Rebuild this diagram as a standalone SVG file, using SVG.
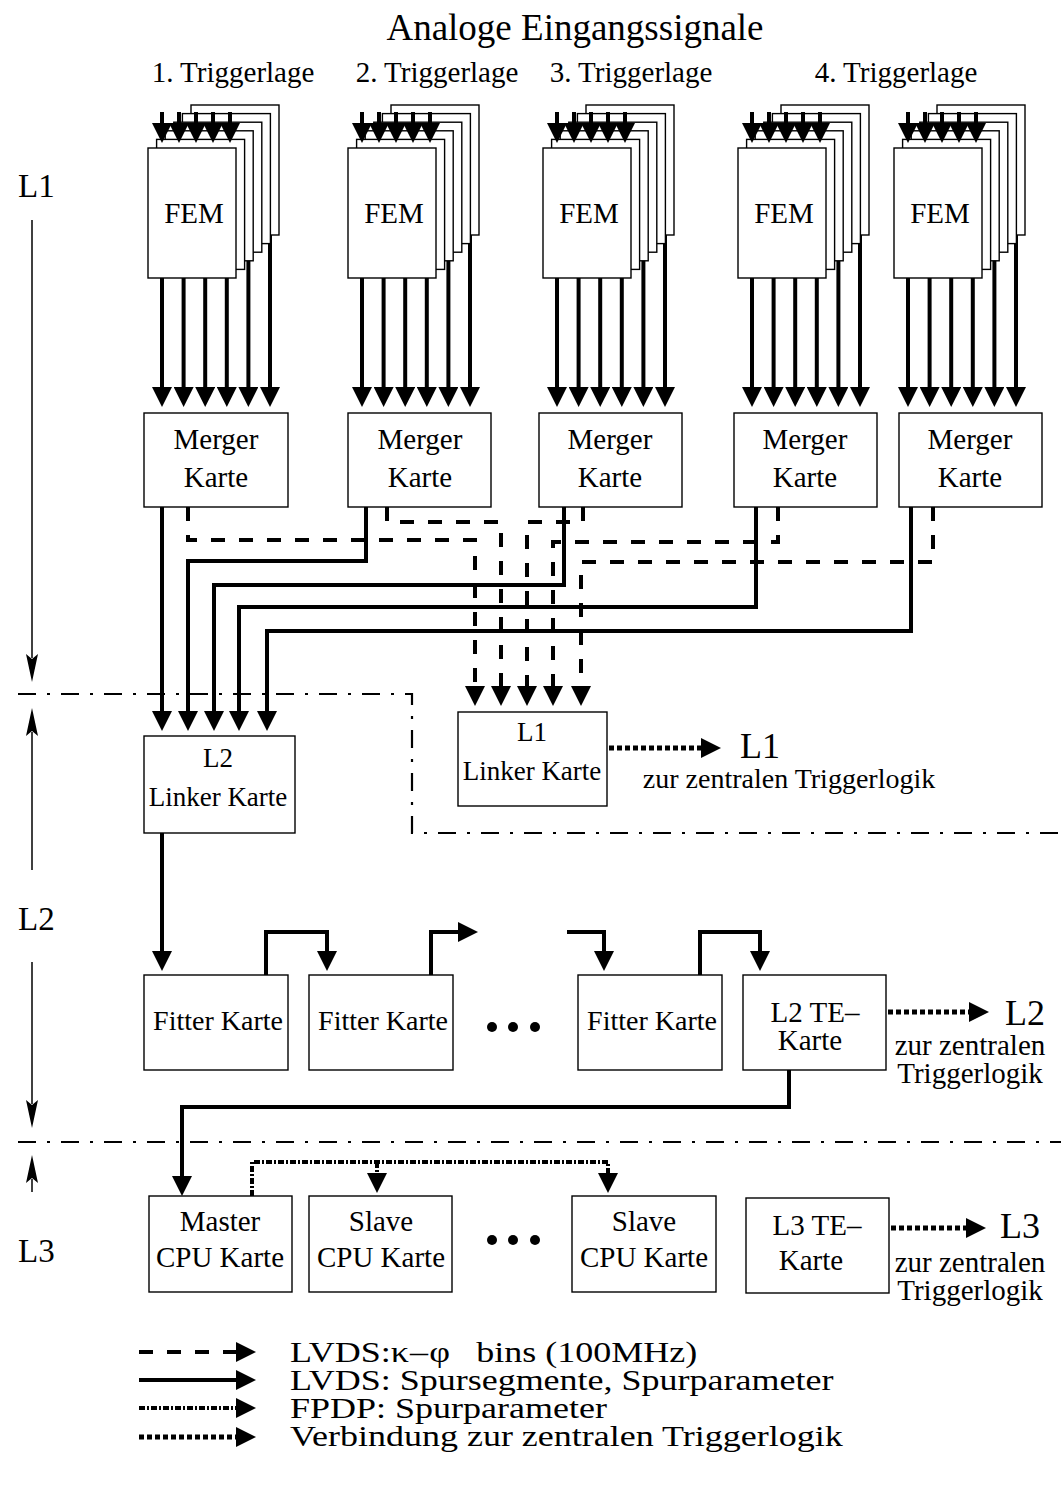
<svg xmlns="http://www.w3.org/2000/svg" width="1061" height="1508" viewBox="0 0 1061 1508">
<style>
text{font-family:"Liberation Serif","Times New Roman",serif;fill:#000}
.t{font-size:29px;text-anchor:middle}
.t2{font-size:27px;text-anchor:middle}
.box{fill:#fff;stroke:#000;stroke-width:1.4}
.sol{fill:none;stroke:#000;stroke-width:4}
.dsh{fill:none;stroke:#000;stroke-width:4;stroke-dasharray:14 14}
.fp{fill:none;stroke:#000;stroke-width:4;stroke-dasharray:6 2 2 2}
.dot{fill:none;stroke:#000;stroke-width:5;stroke-dasharray:5 3}
.sep{fill:none;stroke:#000;stroke-width:2.2;stroke-dasharray:18 11 3 11}
.ax{fill:none;stroke:#000;stroke-width:1.5}
.lg{font-size:30px}
</style>
<defs>
<marker id="a" markerUnits="userSpaceOnUse" markerWidth="20" markerHeight="20" viewBox="0 0 20 20" refX="1" refY="10" orient="auto"><path d="M0,0 L20,10 L0,20 z" fill="#000"/></marker>
<marker id="s" markerUnits="userSpaceOnUse" markerWidth="28" markerHeight="12" viewBox="0 0 28 12" refX="4" refY="6" orient="auto"><path d="M0,0 L28,6 L0,12 L5,6 z" fill="#000"/></marker>
<g id="stk">
<path class="sol" d="M14,60 V240" marker-end="url(#a)"/>
<path class="sol" d="M35.6,60 V240" marker-end="url(#a)"/>
<path class="sol" d="M57.2,60 V240" marker-end="url(#a)"/>
<path class="sol" d="M78.8,60 V240" marker-end="url(#a)"/>
<path class="sol" d="M100.4,60 V240" marker-end="url(#a)"/>
<path class="sol" d="M122,60 V240" marker-end="url(#a)"/>
<rect class="box" x="43" y="-43" width="88" height="130"/>
<rect class="box" x="34.4" y="-34.4" width="88" height="130"/>
<rect class="box" x="25.8" y="-25.8" width="88" height="130"/>
<rect class="box" x="17.2" y="-17.2" width="88" height="130"/>
<rect class="box" x="8.6" y="-8.6" width="88" height="130"/>
<rect class="box" x="0" y="0" width="88" height="130"/>
<path class="sol" d="M14,-36 V-24" marker-end="url(#a)"/>
<path class="sol" d="M31,-36 V-24" marker-end="url(#a)"/>
<path class="sol" d="M48,-36 V-24" marker-end="url(#a)"/>
<path class="sol" d="M65,-36 V-24" marker-end="url(#a)"/>
<path class="sol" d="M82,-36 V-24" marker-end="url(#a)"/>
<text class="t" x="46" y="75">FEM</text>
</g>
</defs>

<text x="575" y="40" style="font-size:37px;text-anchor:middle">Analoge Eingangssignale</text>
<text class="t" x="233" y="82">1. Triggerlage</text>
<text class="t" x="437" y="82">2. Triggerlage</text>
<text class="t" x="631" y="82">3. Triggerlage</text>
<text class="t" x="896" y="82">4. Triggerlage</text>

<g id="fem1"><use href="#stk" transform="translate(148,148)"/></g>
<g id="fem2"><use href="#stk" transform="translate(348,148)"/></g>
<g id="fem3"><use href="#stk" transform="translate(543,148)"/></g>
<g id="fem4"><use href="#stk" transform="translate(738,148)"/></g>
<g id="fem5"><use href="#stk" transform="translate(894,148)"/></g>

<g id="merger1"><rect class="box" x="144" y="413" width="144" height="94"/><text class="t" x="216" y="449">Merger</text><text class="t" x="216" y="487">Karte</text></g>
<g id="merger2"><rect class="box" x="348" y="413" width="143" height="94"/><text class="t" x="420" y="449">Merger</text><text class="t" x="420" y="487">Karte</text></g>
<g id="merger3"><rect class="box" x="539" y="413" width="143" height="94"/><text class="t" x="610" y="449">Merger</text><text class="t" x="610" y="487">Karte</text></g>
<g id="merger4"><rect class="box" x="734" y="413" width="143" height="94"/><text class="t" x="805" y="449">Merger</text><text class="t" x="805" y="487">Karte</text></g>
<g id="merger5"><rect class="box" x="899" y="413" width="143" height="94"/><text class="t" x="970" y="449">Merger</text><text class="t" x="970" y="487">Karte</text></g>

<g id="l2linker"><rect class="box" x="144" y="736" width="151" height="97"/><text class="t2" x="218" y="767">L2</text><text class="t2" x="218" y="806">Linker Karte</text></g>
<g id="l1linker"><rect class="box" x="458" y="712" width="149" height="94"/><text class="t2" x="532" y="741">L1</text><text class="t2" x="532" y="780">Linker Karte</text></g>

<g id="fitter1"><rect class="box" x="144" y="975" width="144" height="95"/><text class="t" x="218" y="1030" style="font-size:28px">Fitter Karte</text></g>
<g id="fitter2"><rect class="box" x="309" y="975" width="144" height="95"/><text class="t" x="383" y="1030" style="font-size:28px">Fitter Karte</text></g>
<g id="fitter3"><rect class="box" x="578" y="975" width="144" height="95"/><text class="t" x="652" y="1030" style="font-size:28px">Fitter Karte</text></g>
<g id="l2te"><rect class="box" x="743" y="975" width="143" height="95"/><text class="t" x="815" y="1022">L2 TE–</text><text class="t" x="810" y="1050">Karte</text></g>

<g id="master"><rect class="box" x="149" y="1196" width="143" height="96"/><text class="t" x="220" y="1231">Master</text><text class="t" x="220" y="1267">CPU Karte</text></g>
<g id="slave1"><rect class="box" x="309" y="1196" width="143" height="96"/><text class="t" x="381" y="1231">Slave</text><text class="t" x="381" y="1267">CPU Karte</text></g>
<g id="slave2"><rect class="box" x="572" y="1196" width="144" height="96"/><text class="t" x="644" y="1231">Slave</text><text class="t" x="644" y="1267">CPU Karte</text></g>
<g id="l3te"><rect class="box" x="746" y="1198" width="143" height="95"/><text class="t" x="817" y="1235">L3 TE–</text><text class="t" x="811" y="1270">Karte</text></g>

<g id="ellipsis">
<circle cx="492" cy="1027" r="5"/><circle cx="513" cy="1027" r="5"/><circle cx="535" cy="1027" r="5"/>
<circle cx="492" cy="1240" r="5"/><circle cx="513" cy="1240" r="5"/><circle cx="535" cy="1240" r="5"/>
</g>

<g id="connectors">
<path class="dsh" d="M188,507 V540 H475 V687" marker-end="url(#a)"/>
<path class="dsh" d="M387,507 V522 H501 V687" marker-end="url(#a)"/>
<path class="dsh" d="M583,507 V522 H527 V687" marker-end="url(#a)"/>
<path class="dsh" d="M778,507 V542 H553 V687" marker-end="url(#a)"/>
<path class="dsh" d="M933,507 V562 H581 V687" marker-end="url(#a)"/>
<path class="sol" d="M162,507 V712" marker-end="url(#a)"/>
<path class="sol" d="M366,507 V561 H188 V712" marker-end="url(#a)"/>
<path class="sol" d="M564,507 V585 H214 V712" marker-end="url(#a)"/>
<path class="sol" d="M756,507 V607 H239 V712" marker-end="url(#a)"/>
<path class="sol" d="M911,507 V631 H267 V712" marker-end="url(#a)"/>
<path class="sol" d="M162,833 V952" marker-end="url(#a)"/>
<path class="sol" d="M266,975 V932 H327 V952" marker-end="url(#a)"/>
<path class="sol" d="M431,975 V932 H459" marker-end="url(#a)"/>
<path class="sol" d="M567,932 H604 V952" marker-end="url(#a)"/>
<path class="sol" d="M700,975 V932 H760 V952" marker-end="url(#a)"/>
<path class="sol" d="M789,1070 V1107 H182 V1177" marker-end="url(#a)"/>
<path class="fp" d="M252,1196 V1162 H608 V1174" marker-end="url(#a)"/>
<path class="fp" d="M377,1162 V1174" marker-end="url(#a)"/>
<path class="dot" d="M609,748 H702" marker-end="url(#a)"/>
<path class="dot" d="M888,1012 H970" marker-end="url(#a)"/>
<path class="dot" d="M891,1228 H967" marker-end="url(#a)"/>
<path class="sep" d="M18,694 H412 V833 H1061"/>
<path class="sep" d="M18,1142 H1061"/>
<path class="ax" d="M32,220 V658" marker-end="url(#s)"/>
<path class="ax" d="M32,870 V732" marker-end="url(#s)"/>
<path class="ax" d="M32,962 V1104" marker-end="url(#s)"/>
<path class="ax" d="M32,1192 V1179" marker-end="url(#s)"/>
</g>

<text x="740" y="758" style="font-size:36px">L1</text>
<text x="789" y="788" style="font-size:28px;text-anchor:middle">zur zentralen Triggerlogik</text>
<text x="1005" y="1025" style="font-size:36px">L2</text>
<text x="970" y="1055" style="font-size:29px;text-anchor:middle">zur zentralen</text>
<text x="970" y="1083" style="font-size:29px;text-anchor:middle">Triggerlogik</text>
<text x="1000" y="1238" style="font-size:36px">L3</text>
<text x="970" y="1272" style="font-size:29px;text-anchor:middle">zur zentralen</text>
<text x="970" y="1300" style="font-size:29px;text-anchor:middle">Triggerlogik</text>

<text x="18" y="197" style="font-size:33px">L1</text>
<text x="18" y="930" style="font-size:33px">L2</text>
<text x="18" y="1262" style="font-size:33px">L3</text>

<g id="legend">
<path class="dsh" d="M139,1352 H237" marker-end="url(#a)"/>
<path class="sol" d="M139,1380 H237" marker-end="url(#a)"/>
<path class="fp" d="M139,1408 H237" marker-end="url(#a)"/>
<path class="dot" d="M139,1437 H237" marker-end="url(#a)"/>
<g transform="translate(290,0) scale(1.2,1)">
<text class="lg" x="0" y="1362">LVDS:κ<tspan dx="1">–</tspan><tspan dx="1">φ</tspan><tspan dx="22">bins (100MHz)</tspan></text>
<text class="lg" x="0" y="1390">LVDS: Spursegmente, Spurparameter</text>
<text class="lg" x="0" y="1418">FPDP: Spurparameter</text>
<text class="lg" x="0" y="1446">Verbindung zur zentralen Triggerlogik</text>
</g>
</g>
</svg>
